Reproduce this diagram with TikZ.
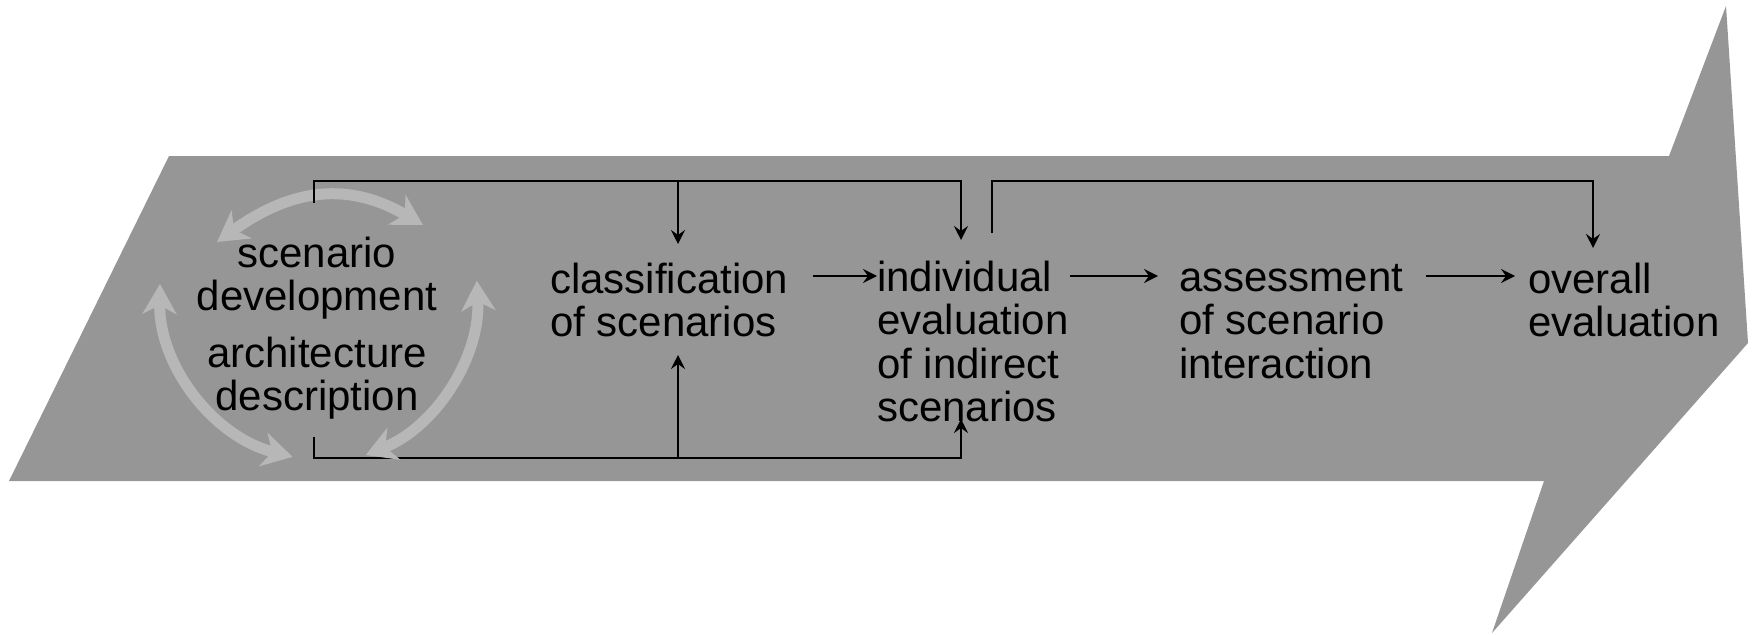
\documentclass[tikz,border=0pt]{standalone}
\usepackage{fontspec}
\setmainfont{Liberation Sans}
\usetikzlibrary{arrows.meta}
\definecolor{bandgray}{RGB}{150,150,150}
\definecolor{cyclegray}{RGB}{183,183,183}
% invisible strut fixing the height of every first text line
\newcommand{\firstline}{\rule{0pt}{32pt}}

\begin{document}
\begin{tikzpicture}[x=1pt,y=-1pt,
  label text/.style={font=\fontsize{42pt}{43.5pt}\selectfont, inner sep=0pt, text=black},
  link/.style={line width=2.5pt, draw=black},
  flow/.style={link, -{Stealth[length=14pt,width=14pt,inset=5pt]}},
  cyclearrow/.style={line width=11pt, draw=cyclegray,
    {Stealth[length=30pt,width=34pt,inset=9pt]}-{Stealth[length=30pt,width=34pt,inset=9pt]}}
]
\useasboundingbox (0,0) rectangle (1752,634);

% big process arrow in the background
\fill[bandgray] (169,156) -- (1669,156) -- (1726,6) -- (1748,343)
  -- (1492,633) -- (1544,481) -- (9,481) -- cycle;

% process steps
\node[label text, align=center, anchor=north] (sd) at (317,235) {\firstline scenario\\development};
\node[label text, align=center, anchor=north] (ad) at (317,335) {\firstline architecture\\description};
\node[label text, align=left, anchor=north west] (cls) at (550,261) {\firstline classification\\of scenarios};
\node[label text, align=left, anchor=north west] (ind) at (877,259) {\firstline individual\\evaluation\\of indirect\\scenarios};
\node[label text, align=left, anchor=north west] (ass) at (1179,259) {\firstline assessment\\of scenario\\interaction};
\node[label text, align=left, anchor=north west] (ovr) at (1528,261) {\firstline overall\\evaluation};

% junction and end points of the feedback lines
\coordinate (tA) at (314,203);
\coordinate (tB) at (314,181);
\coordinate (tC) at (961,181);
\coordinate (tD) at (961,240);
\coordinate (tE) at (678,181);
\coordinate (tF) at (678,244);
\coordinate (rA) at (992,233);
\coordinate (rB) at (992,181);
\coordinate (rC) at (1593,181);
\coordinate (rD) at (1593,248);
\coordinate (bA) at (314,437);
\coordinate (bB) at (314,458);
\coordinate (bC) at (961,458);
\coordinate (bD) at (961,419);
\coordinate (bE) at (678,458);
\coordinate (bF) at (678,355);
\coordinate (h1) at (813,276);
\coordinate (h2) at (1070,276);
\coordinate (h2e) at (1158,276);
\coordinate (h3) at (1426,276);
\coordinate (h3e) at (1515,276);

% iteration cycle: top arc
\draw[cyclearrow] (217,242) .. controls (295,186) and (351,183) .. (423,225);

% feedback lines
\draw[flow] (tA) -- (tB) -- (tC) -- (tD);
\draw[flow] (tE) -- (tF);
\draw[flow] (rA) -- (rB) -- (rC) -- (rD);
\draw[flow] (bA) -- (bB) -- (bC) -- (bD);
\draw[flow] (bE) -- (bF);

% main flow
\draw[flow] (h1) -- (h1 -| ind.west);
\draw[flow] (h2) -- (h2e);
\draw[flow] (h3) -- (h3e);

% iteration cycle: side arcs
\draw[cyclearrow] (160,284) arc[start angle=181, end angle=104, radius=175];
\draw[cyclearrow] (476.8,280.7) arc[start angle=-3, end angle=68, radius=178];
\end{tikzpicture}
\end{document}
